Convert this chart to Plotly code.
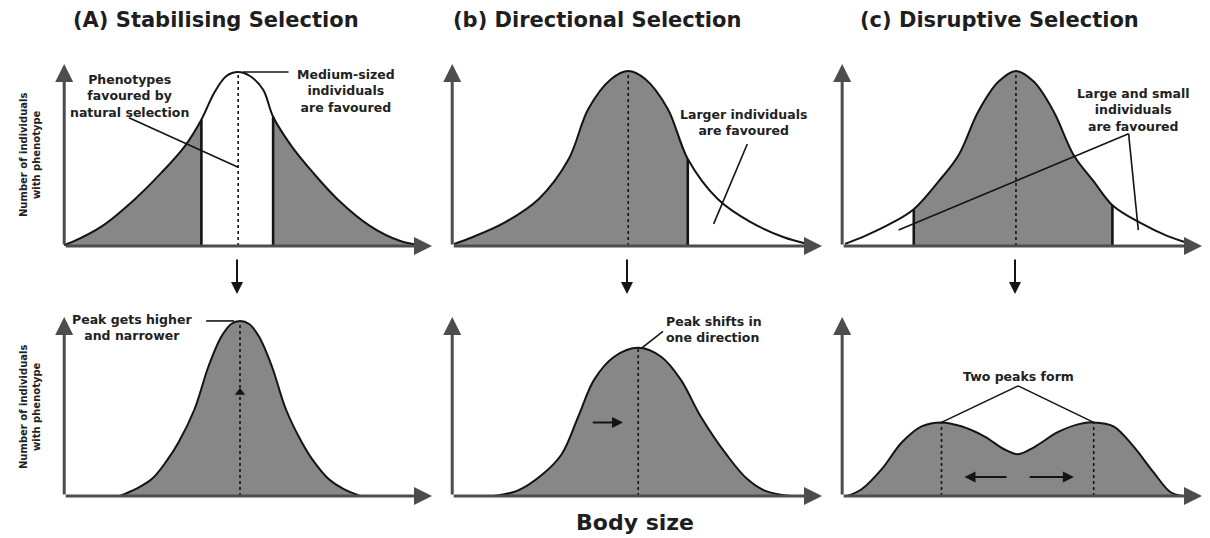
import plotly.graph_objects as go

# ---------------- data (body size 0-100, number of individuals 0-100) ----------------
titles = ["(A) Stabilising Selection", "(b) Directional Selection", "(c) Disruptive Selection"]
y_label = "Number of individuals<br>with phenotype"
x_label = "Body size"

# top row: before selection
a_top_x = [0.0, 2.2, 10.3, 19.2, 26.5, 32.7, 37.3, 40.8, 44.1, 47.3, 50.5, 54.1, 56.8, 61.9, 67.6, 74.3, 83.2, 91.4, 96.8]
a_top_y = [0.5, 2.2, 10.9, 25.7, 40.4, 54.6, 69.4, 84.2, 93.4, 95.6, 93.4, 85.8, 71.0, 54.6, 40.4, 25.7, 10.9, 2.7, 0.5]

b_top_x = [0.5, 5.6, 14.5, 23.4, 31.5, 36.8, 43.0, 47.6, 52.2, 58.3, 63.7, 71.8, 80.6, 89.5, 96.0]
b_top_y = [1.1, 4.9, 13.2, 25.8, 47.8, 75.3, 91.8, 96.2, 91.8, 75.3, 47.8, 25.8, 13.2, 4.9, 1.1]

c_top_x = [0.8, 6.4, 13.8, 19.9, 26.8, 32.3, 37.8, 43.4, 48.3, 53.3, 58.8, 64.4, 69.9, 75.1, 82.9, 90.3, 96.1]
c_top_y = [1.1, 5.5, 12.6, 20.2, 35.5, 49.7, 73.8, 90.2, 96.2, 90.2, 73.8, 49.7, 35.5, 22.4, 12.6, 5.5, 1.6]

# bottom row: after selection
a_bot_x = [15.1, 19.5, 23.8, 27.8, 31.1, 35.4, 39.2, 42.7, 45.4, 47.8, 50.3, 53.0, 56.5, 60.3, 64.6, 67.8, 71.9, 75.9, 80.5]
a_bot_y = [0.0, 3.9, 9.4, 19.4, 30.0, 48.3, 72.2, 88.9, 96.1, 97.8, 96.1, 88.9, 72.2, 48.3, 30.0, 19.4, 9.4, 3.9, 0.0]

b_bot_x = [11.3, 17.5, 24.2, 29.6, 34.1, 38.4, 43.8, 50.3, 56.5, 61.8, 67.2, 74.5, 79.8, 84.7, 91.4]
b_bot_y = [0.0, 2.8, 11.7, 23.3, 44.4, 65.0, 77.8, 82.8, 77.8, 65.0, 44.4, 22.2, 9.4, 2.8, 0.0]

c_bot_x = [1.4, 5.5, 11.0, 16.6, 22.1, 27.6, 33.1, 39.5, 45.0, 48.9, 53.3, 59.9, 65.5, 69.9, 75.4, 80.9, 86.5, 91.2, 94.5]
c_bot_y = [0.0, 3.9, 15.0, 30.0, 38.9, 41.1, 38.9, 33.3, 26.1, 23.3, 27.2, 35.6, 40.0, 41.1, 38.9, 27.8, 13.3, 2.2, 0.0]

# callout texts
callouts = {
    1: ["Phenotypes<br>favoured by<br>natural selection", "Medium-sized<br>individuals<br>are favoured"],
    2: ["Larger individuals<br>are favoured"],
    3: ["Large and small<br>individuals<br>are favoured"],
    4: ["Peak gets higher<br>and narrower"],
    5: ["Peak shifts in<br>one direction"],
    6: ["Two peaks form"],
}

# ---------------- styling ----------------
GRAY = "#878787"
INK = "#141414"
AXIS = "#4d4d4d"
FONT = "DejaVu Sans"

W, H = 1210, 538
col_dom = [(62 / W, 432 / W), (450 / W, 822 / W), (840 / W, 1202 / W)]
row_dom = [(1 - 247 / H, 1 - 64 / H), (1 - 497 / H, 1 - 317 / H)]

fig = go.Figure()
annotations = []
shapes = []


def refs(k):
    s = "" if k == 1 else str(k)
    return "x" + s, "y" + s


def add_panel(k, xs, ys, fills, walls, dotted):
    xr, yr = refs(k)
    for i, j in fills:
        fig.add_trace(go.Scatter(x=xs[i:j + 1], y=ys[i:j + 1], mode="lines",
                                 line=dict(width=0, shape="spline"), fill="tozeroy",
                                 fillcolor=GRAY, xaxis=xr, yaxis=yr,
                                 hoverinfo="skip", showlegend=False))
    for idx in dotted:
        fig.add_trace(go.Scatter(x=[xs[idx], xs[idx]], y=[0, ys[idx]], mode="lines",
                                 line=dict(width=1.6, color=INK, dash="dot"),
                                 xaxis=xr, yaxis=yr, hoverinfo="skip", showlegend=False))
    for idx in walls:
        fig.add_trace(go.Scatter(x=[xs[idx], xs[idx]], y=[0, ys[idx]], mode="lines",
                                 line=dict(width=2.6, color=INK),
                                 xaxis=xr, yaxis=yr, hoverinfo="skip", showlegend=False))
    fig.add_trace(go.Scatter(x=xs, y=ys, mode="lines",
                             line=dict(width=2, color=INK, shape="spline"),
                             xaxis=xr, yaxis=yr, hoverinfo="skip", showlegend=False))
    # axes with arrowheads
    for (tx, ty) in [(100, 0), (0, 100)]:
        annotations.append(dict(x=tx, y=ty, ax=0, ay=0, xref=xr, yref=yr, axref=xr, ayref=yr,
                                text="", showarrow=True, arrowhead=2, arrowsize=1.2,
                                arrowwidth=3, arrowcolor=AXIS))


add_panel(1, a_top_x, a_top_y, fills=[(0, 6), (12, len(a_top_x) - 1)], walls=[6, 12], dotted=[9])
add_panel(2, b_top_x, b_top_y, fills=[(0, 10)], walls=[10], dotted=[7])
add_panel(3, c_top_x, c_top_y, fills=[(3, 13)], walls=[3, 13], dotted=[8])
add_panel(4, a_bot_x, a_bot_y, fills=[(0, len(a_bot_x) - 1)], walls=[], dotted=[9])
add_panel(5, b_bot_x, b_bot_y, fills=[(0, len(b_bot_x) - 1)], walls=[], dotted=[7])
add_panel(6, c_bot_x, c_bot_y, fills=[(0, len(c_bot_x) - 1)], walls=[], dotted=[5, 13])

# small upward arrow marker in panel A (after)
fig.add_trace(go.Scatter(x=[a_bot_x[9]], y=[57.8], mode="markers",
                         marker=dict(symbol="triangle-up", size=9, color=INK),
                         xaxis="x4", yaxis="y4", hoverinfo="skip", showlegend=False))

# axes layout
layout_axes = {}
for i in range(6):
    r, c = divmod(i, 3)
    s = "" if i == 0 else str(i + 1)
    layout_axes["xaxis" + s] = dict(domain=col_dom[c], range=[-0.6, 100], anchor="y" + s,
                                    visible=False, fixedrange=True)
    layout_axes["yaxis" + s] = dict(domain=row_dom[r], range=[-0.6, 100], anchor="x" + s,
                                    visible=False, fixedrange=True)

txt = dict(family=FONT, size=12.5, color="#222222", weight="bold")


def note(k, x, y, text, xanchor="center"):
    xr, yr = refs(k)
    annotations.append(dict(x=x, y=y, xref=xr, yref=yr, text=text, showarrow=False,
                            font=txt, xanchor=xanchor, yanchor="middle",
                            align=xanchor if xanchor != "center" else "center"))


def leader(k, x0, y0, x1, y1):
    xr, yr = refs(k)
    shapes.append(dict(type="line", xref=xr, yref=yr, x0=x0, y0=y0, x1=x1, y1=y1,
                       line=dict(color=INK, width=1.6)))


# panel A top callouts
note(1, 17.8, 82.5, callouts[1][0])
leader(1, 17.6, 70.5, a_top_x[9], 43.2)
note(1, 76.5, 85.2, callouts[1][1])
leader(1, 48.6, a_top_y[9], 61.0, a_top_y[9])
# panel B top
note(2, 78.8, 67.6, callouts[2][0])
leader(2, 79.8, 56.0, 70.7, 12.1)
# panel C top
note(3, 80.9, 74.9, callouts[3][0])
leader(3, 79.6, 61.7, 15.7, 8.7)
leader(3, 79.6, 61.7, 82.3, 8.7)
# panel A bottom
note(4, 18.4, 94.4, callouts[4][0])
leader(4, 38.6, a_bot_y[9], 46.2, a_bot_y[9])
# panel B bottom
note(5, 57.3, 92.8, callouts[5][0], xanchor="left")
leader(5, b_bot_x[7] + 1, b_bot_y[7], 57.0, 92.0)
# panel C bottom
note(6, 48.9, 67.0, callouts[6][0])
leader(6, 48.9, 61.5, c_bot_x[5], c_bot_y[5])
leader(6, 48.9, 61.5, c_bot_x[13], c_bot_y[13])

# arrows inside panels
annotations.append(dict(x=46.2, y=41.1, ax=37.6, ay=41.1, xref="x5", yref="y5", axref="x5", ayref="y5",
                        text="", showarrow=True, arrowhead=2, arrowsize=1.1, arrowwidth=2, arrowcolor=INK))
annotations.append(dict(x=34.0, y=10.6, ax=46.1, ay=10.6, xref="x6", yref="y6", axref="x6", ayref="y6",
                        text="", showarrow=True, arrowhead=2, arrowsize=1.1, arrowwidth=2, arrowcolor=INK))
annotations.append(dict(x=64.4, y=10.6, ax=51.7, ay=10.6, xref="x6", yref="y6", axref="x6", ayref="y6",
                        text="", showarrow=True, arrowhead=2, arrowsize=1.1, arrowwidth=2, arrowcolor=INK))

# down arrows between rows
for xc in [237 / W, 627 / W, 1015 / W]:
    annotations.append(dict(x=xc, y=1 - 294 / H, ax=0, ay=-36, xref="paper", yref="paper",
                            axref="pixel", ayref="pixel", text="", showarrow=True, arrowhead=2,
                            arrowsize=1.2, arrowwidth=2, arrowcolor=INK))

# titles
for t, xc in zip(titles, [216 / W, 597 / W, 999 / W]):
    annotations.append(dict(x=xc, y=1 - 20 / H, xref="paper", yref="paper", text=t, showarrow=False,
                            font=dict(family=FONT, size=21, color="#1e1e1e", weight="bold"),
                            xanchor="center", yanchor="middle"))

# y labels
for yc in [1 - 155 / H, 1 - 407 / H]:
    annotations.append(dict(x=30 / W, y=yc, xref="paper", yref="paper", text=y_label, showarrow=False,
                            textangle=-90, font=dict(family=FONT, size=10, color="#222222", weight="bold"),
                            xanchor="center", yanchor="middle"))

# x label
annotations.append(dict(x=635 / W, y=1 - 522 / H, xref="paper", yref="paper", text=x_label, showarrow=False,
                        font=dict(family=FONT, size=22, color="#1e1e1e", weight="bold"),
                        xanchor="center", yanchor="middle"))

fig.update_layout(width=W, height=H, margin=dict(l=0, r=0, t=0, b=0),
                  paper_bgcolor="white", plot_bgcolor="rgba(0,0,0,0)",
                  showlegend=False, annotations=annotations, shapes=shapes, **layout_axes)

fig.write_html("out.html", config={"displayModeBar": False},
               post_script="document.body.style.margin='0';document.body.style.padding='0';")
